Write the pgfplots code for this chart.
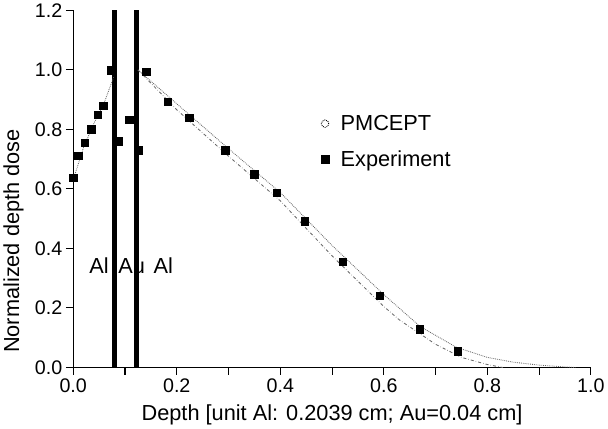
\documentclass[border=0pt]{standalone}
\usepackage{fontspec}
\setmainfont{Liberation Sans}
\usepackage{pgfplots}
\pgfplotsset{compat=1.18}
\begin{document}
\begin{tikzpicture}
\begin{axis}[
  scale only axis,
  width=500pt, height=345pt,
  xmin=0, xmax=1, ymin=0, ymax=1.2,
  axis lines*=left,
  tick align=outside,
  xtick={0,0.2,...,1.0},
  minor xtick={0.1,0.3,...,0.9},
  ytick={0,0.2,...,1.2},
  major tick length=7pt, minor tick length=7pt,
  tick style={line width=1pt, black},
  axis line style={line width=1pt},
  tick label style={font=\fontsize{19}{19}\selectfont},
  /pgf/number format/assume math mode=true,
  xticklabel style={/pgf/number format/.cd, fixed, fixed zerofill, precision=1},
  yticklabel style={/pgf/number format/.cd, fixed, fixed zerofill, precision=1},
  xlabel={Depth [unit Al: 0.2039 cm; Au=0.04 cm]},
  ylabel={Normalized depth dose},
  label style={font=\fontsize{21}{21}\selectfont},
  xlabel style={yshift=-5pt},
  ylabel style={at={(ticklabel cs:0.354)}, yshift=4pt},
  legend style={draw=none, fill=none, at={(axis cs:0.478,0.855)}, anchor=north west,
    font=\fontsize{21}{21}\selectfont, row sep=14pt, legend cell align=left,
    inner sep=0pt, /tikz/every odd column/.append style={column sep=9pt}},
]
% layer boundaries
\addplot[black, line width=5pt, forget plot] coordinates {(0.0805,0) (0.0805,1.2)};
\addplot[black, line width=5pt, forget plot] coordinates {(0.122,0) (0.122,1.2)};
% PMCEPT (upper dotted curve)
\addplot[gray!80!black, densely dotted, line width=0.8pt,
  legend image code/.code={\draw[black, line width=0.9pt] (0.12cm,0cm) circle (3.6pt);}]
  coordinates {(0,0.63) (0.02,0.74) (0.04,0.82) (0.06,0.89) (0.078,0.975)};
\addlegendentry{PMCEPT}
\addplot[gray!80!black, densely dotted, line width=0.8pt, forget plot]
  coordinates {(0.125,1.0) (0.2,0.886) (0.3,0.735) (0.4,0.588) (0.5,0.41) (0.6,0.245) (0.67,0.138) (0.74,0.068) (0.8,0.034) (0.85,0.018) (0.9,0.008) (0.95,0.002) (0.97,0.0)};
% second curve (lower dash-dot)
\addplot[gray!80!black, dash dot, line width=0.8pt, forget plot]
  coordinates {(0.125,1.0) (0.2,0.866) (0.3,0.71) (0.4,0.56) (0.5,0.375) (0.6,0.205) (0.63,0.16) (0.7,0.078) (0.75,0.034) (0.8,0.01) (0.83,0)};
% Experiment
\addplot[only marks, mark=square*, mark size=3.6pt, black,
  legend image code/.code={\fill[black] (0.12cm,0cm) ++(-3.8pt,-3.8pt) rectangle ++(7.6pt,7.6pt);}]
  coordinates {
  (0.0,0.637) (0.01,0.711) (0.022,0.756) (0.035,0.80) (0.047,0.849) (0.058,0.88)
  (0.073,0.999) (0.087,0.76) (0.108,0.833) (0.126,0.73) (0.141,0.994)
  (0.183,0.893) (0.224,0.84) (0.294,0.73) (0.35,0.649) (0.393,0.588)
  (0.447,0.491) (0.521,0.355) (0.592,0.242) (0.669,0.128) (0.743,0.055)};
\addlegendentry{Experiment}
\node[font=\fontsize{21}{21}\selectfont] at (axis cs:0.05,0.342) {Al};
\node[font=\fontsize{21}{21}\selectfont] at (axis cs:0.113,0.342) {Au};
\node[font=\fontsize{21}{21}\selectfont] at (axis cs:0.174,0.342) {Al};
\end{axis}
\end{tikzpicture}
\end{document}
